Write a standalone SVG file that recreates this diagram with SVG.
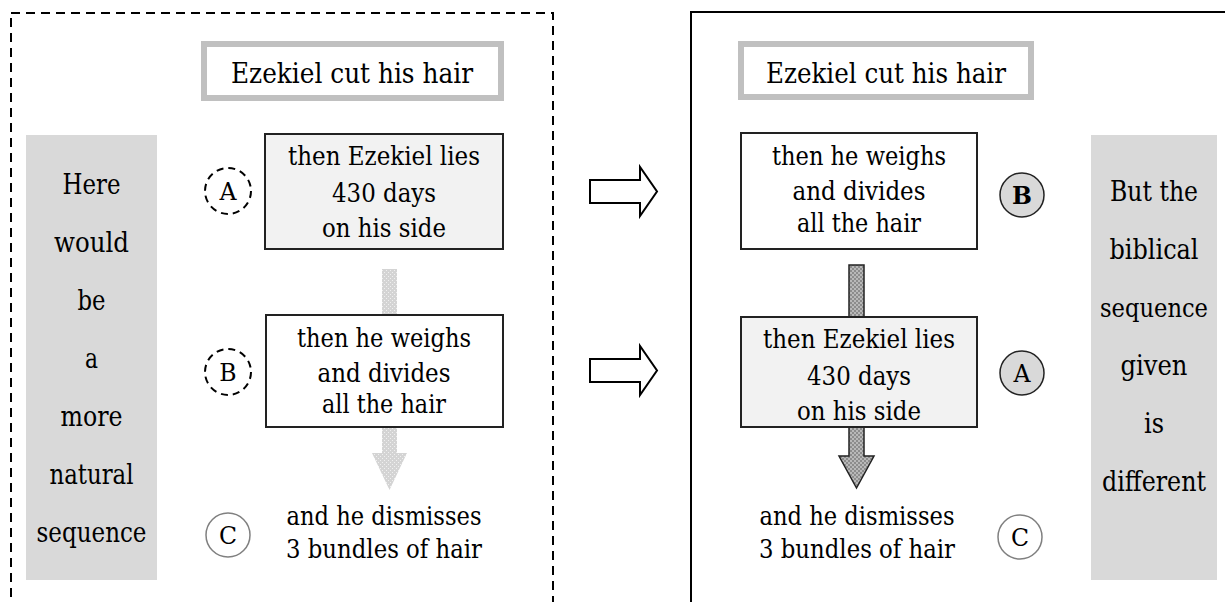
<svg xmlns="http://www.w3.org/2000/svg" width="1225" height="602" viewBox="0 0 1225 602">
<style>
text{font-family:"DejaVu Serif",serif;fill:#000;text-anchor:middle}
.title{font-size:28.6px}
.bx{font-size:26.3px}
.side{font-size:27.2px}
.lbl{font-size:23.6px}
.tbox{fill:#fff;stroke:#c0c0c0;stroke-width:6}
.node{stroke:#222;stroke-width:2}
.side-bg{fill:#d9d9d9}
.hollow{fill:#fff;stroke:#000;stroke-width:2;stroke-linejoin:miter}
</style>
<defs>
<pattern id="dotLight" width="4" height="4" patternUnits="userSpaceOnUse">
<rect width="4" height="4" fill="#d4d4d4"/>
<rect x="0" y="0" width="1" height="1" fill="#f0f0f0"/>
<rect x="2" y="2" width="1" height="1" fill="#f0f0f0"/>
</pattern>
<pattern id="dotDark" width="4" height="4" patternUnits="userSpaceOnUse">
<rect width="4" height="4" fill="#b8b8b8"/>
<rect x="0" y="0" width="2" height="2" fill="#8c8c8c"/>
<rect x="2" y="2" width="2" height="2" fill="#8c8c8c"/>
</pattern>
</defs>

<g id="frames">
<rect x="11" y="13" width="542" height="620" fill="none" stroke="#000" stroke-width="2" stroke-dasharray="9 6"/>
<rect x="691" y="12" width="560" height="620" fill="none" stroke="#000" stroke-width="2"/>
</g>

<g id="left-side">
<rect class="side-bg" x="26" y="135" width="131" height="445"/>
<text class="side" x="91.5" y="194" textLength="58" lengthAdjust="spacingAndGlyphs">Here</text>
<text class="side" x="91.5" y="252" textLength="75" lengthAdjust="spacingAndGlyphs">would</text>
<text class="side" x="91.5" y="310" textLength="28" lengthAdjust="spacingAndGlyphs">be</text>
<text class="side" x="91.5" y="368" textLength="13" lengthAdjust="spacingAndGlyphs">a</text>
<text class="side" x="91.5" y="426" textLength="62" lengthAdjust="spacingAndGlyphs">more</text>
<text class="side" x="91.5" y="484" textLength="84" lengthAdjust="spacingAndGlyphs">natural</text>
<text class="side" x="91.5" y="542" textLength="110" lengthAdjust="spacingAndGlyphs">sequence</text>
</g>

<g id="right-side">
<rect class="side-bg" x="1091" y="135" width="126" height="445"/>
<text class="side" x="1154" y="201" textLength="88" lengthAdjust="spacingAndGlyphs">But the</text>
<text class="side" x="1154" y="259" textLength="89" lengthAdjust="spacingAndGlyphs">biblical</text>
<text class="side" x="1154" y="317" font-size="25.5" style="font-size:25.5px" textLength="108" lengthAdjust="spacingAndGlyphs">sequence</text>
<text class="side" x="1154" y="375" textLength="67" lengthAdjust="spacingAndGlyphs">given</text>
<text class="side" x="1154" y="433" textLength="20" lengthAdjust="spacingAndGlyphs">is</text>
<text class="side" x="1154" y="491" textLength="104" lengthAdjust="spacingAndGlyphs">different</text>
</g>

<g id="left-title">
<rect class="tbox" x="204" y="44" width="297" height="54"/>
<text class="title" x="352" y="83" textLength="242" lengthAdjust="spacingAndGlyphs">Ezekiel cut his hair</text>
</g>
<g id="right-title">
<rect class="tbox" x="741" y="44" width="290" height="53"/>
<text class="title" x="886" y="83" textLength="240" lengthAdjust="spacingAndGlyphs">Ezekiel cut his hair</text>
</g>

<g id="connectors">
<rect x="382" y="269" width="15" height="46" fill="url(#dotLight)"/>
<path d="M382,427 L397,427 L397,453 L407,453 L389.5,490 L372,453 L382,453 Z" fill="url(#dotLight)"/>
<rect x="849" y="265" width="15" height="52" fill="url(#dotDark)" stroke="#222" stroke-width="1.5"/>
<path d="M849,427 L864,427 L864,456 L874,456 L856.5,488 L839,456 L849,456 Z" fill="url(#dotDark)" stroke="#222" stroke-width="1.5" stroke-linejoin="miter"/>
<path class="hollow" d="M590,180 L640,180 L640,167 L657,191.5 L640,216 L640,203 L590,203 Z"/>
<path class="hollow" d="M590,359 L640,359 L640,346 L657,370.5 L640,395 L640,382 L590,382 Z"/>
</g>

<g id="left-A">
<rect class="node" x="265" y="134" width="238" height="115" fill="#f2f2f2"/>
<text class="bx" x="384" y="165" textLength="192" lengthAdjust="spacingAndGlyphs">then Ezekiel lies</text>
<text class="bx" x="384" y="202" textLength="104" lengthAdjust="spacingAndGlyphs">430 days</text>
<text class="bx" x="384" y="237" textLength="124" lengthAdjust="spacingAndGlyphs">on his side</text>
</g>
<g id="left-B">
<rect class="node" x="266" y="315" width="237" height="112" fill="#fff"/>
<text class="bx" x="384" y="347" textLength="174" lengthAdjust="spacingAndGlyphs">then he weighs</text>
<text class="bx" x="384" y="382" textLength="133" lengthAdjust="spacingAndGlyphs">and divides</text>
<text class="bx" x="384" y="413" textLength="124" lengthAdjust="spacingAndGlyphs">all the hair</text>
</g>
<g id="left-C">
<text class="bx" x="384" y="525" textLength="195" lengthAdjust="spacingAndGlyphs">and he dismisses</text>
<text class="bx" x="384" y="558" textLength="196" lengthAdjust="spacingAndGlyphs">3 bundles of hair</text>
</g>

<g id="right-B">
<rect class="node" x="741" y="133" width="236" height="116" fill="#fff"/>
<text class="bx" x="859" y="165" textLength="174" lengthAdjust="spacingAndGlyphs">then he weighs</text>
<text class="bx" x="859" y="200" textLength="133" lengthAdjust="spacingAndGlyphs">and divides</text>
<text class="bx" x="859" y="232" textLength="124" lengthAdjust="spacingAndGlyphs">all the hair</text>
</g>
<g id="right-A">
<rect class="node" x="741" y="317" width="236" height="110" fill="#f2f2f2"/>
<text class="bx" x="859" y="348" textLength="192" lengthAdjust="spacingAndGlyphs">then Ezekiel lies</text>
<text class="bx" x="859" y="385" textLength="104" lengthAdjust="spacingAndGlyphs">430 days</text>
<text class="bx" x="859" y="420" textLength="124" lengthAdjust="spacingAndGlyphs">on his side</text>
</g>
<g id="right-C">
<text class="bx" x="857" y="525" textLength="195" lengthAdjust="spacingAndGlyphs">and he dismisses</text>
<text class="bx" x="857" y="558" textLength="196" lengthAdjust="spacingAndGlyphs">3 bundles of hair</text>
</g>

<g id="left-circle-A">
<circle cx="228" cy="191" r="23" fill="#fff" stroke="#000" stroke-width="2" stroke-dasharray="7 5"/>
<text class="lbl" x="228" y="199.5">A</text>
</g>
<g id="left-circle-B">
<circle cx="228" cy="372" r="23" fill="#fff" stroke="#000" stroke-width="2" stroke-dasharray="7 5"/>
<text class="lbl" x="228" y="380.5">B</text>
</g>
<g id="left-circle-C">
<circle cx="228" cy="535" r="22" fill="#fff" stroke="#808080" stroke-width="1.5"/>
<text class="lbl" x="228" y="543.5">C</text>
</g>
<g id="right-circle-B">
<circle cx="1022" cy="195" r="22" fill="#d9d9d9" stroke="#222" stroke-width="1.5"/>
<text class="lbl" x="1022" y="203.5" font-weight="bold">B</text>
</g>
<g id="right-circle-A">
<circle cx="1022" cy="373" r="22" fill="#d9d9d9" stroke="#222" stroke-width="1.5"/>
<text class="lbl" x="1022" y="381.5">A</text>
</g>
<g id="right-circle-C">
<circle cx="1020" cy="537" r="22" fill="#fff" stroke="#808080" stroke-width="1.5"/>
<text class="lbl" x="1020" y="545.5">C</text>
</g>
</svg>
